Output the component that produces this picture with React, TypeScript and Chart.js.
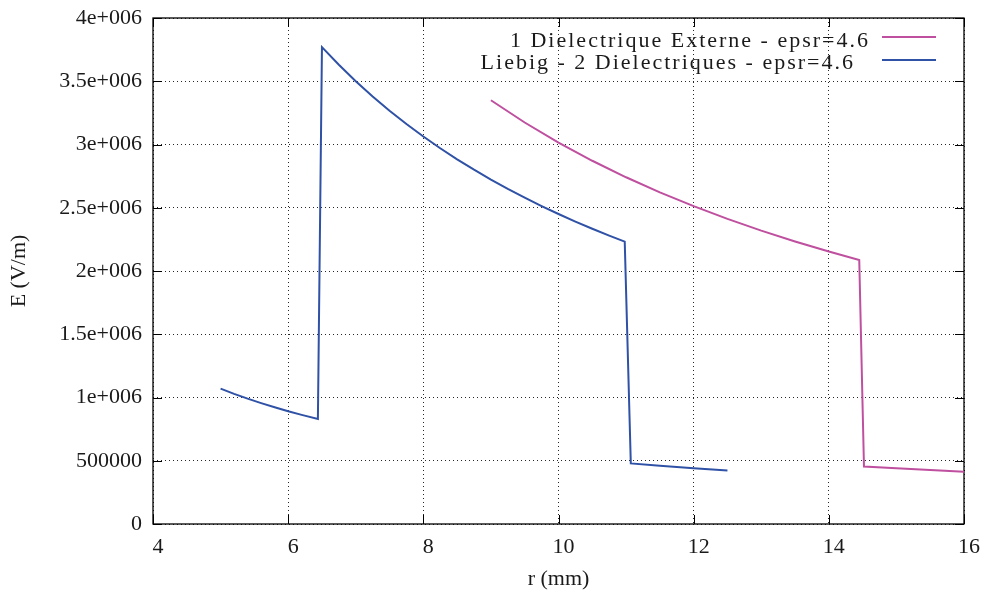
import React, { useEffect, useRef } from 'react';
import { Chart, registerables } from 'chart.js';

Chart.register(...registerables);

// ---- Data ----
const seriesLabels = [
  '1 Dielectrique Externe - epsr=4.6',
  'Liebig - 2 Dielectriques - epsr=4.6',
];

// 1 Dielectrique Externe (pink)
const externeR = [9, 9.5, 10, 10.5, 11, 11.5, 12, 12.5, 13, 13.5, 14, 14.45, 14.52, 15, 15.5, 16];
const externeE = [
  3350000, 3173700, 3015000, 2871400, 2740900, 2621700, 2512500, 2412000,
  2319200, 2233300, 2153600, 2087000, 455000, 440400, 426200, 412900,
];

// Liebig - 2 Dielectriques (blue)
const liebigR = [
  5, 5.2, 5.4, 5.6, 5.8, 6.0, 6.2, 6.44, 6.5, 6.75, 7, 7.25, 7.5, 7.75, 8, 8.25,
  8.5, 8.75, 9, 9.25, 9.5, 9.75, 10, 10.25, 10.5, 10.75, 10.98, 11.07, 11.5, 12, 12.5,
];
const liebigE = [
  1070000, 1028800, 990700, 955400, 922400, 891700, 862900, 831000, 3770000,
  3630400, 3500700, 3380000, 3267300, 3161900, 3063100, 2970300, 2883000,
  2800600, 2722800, 2649200, 2579500, 2513300, 2450500, 2390700, 2333800,
  2279500, 2232000, 479000, 460400, 441200, 423600,
];

const xTicks = [4, 6, 8, 10, 12, 14, 16];
const yTicks = [0, 500000, 1000000, 1500000, 2000000, 2500000, 3000000, 3500000, 4000000];
const yTickLabels = ['0', '500000', '1e+006', '1.5e+006', '2e+006', '2.5e+006', '3e+006', '3.5e+006', '4e+006'];

const xTitle = 'r (mm)';
const yTitle = 'E (V/m)';

const PINK = '#bf4f9f';
const BLUE = '#2f51a6';
const TEXT = '#1a1a1a';
const FONT_FAMILY = '"Liberation Serif", "DejaVu Serif", serif';

const framePlugin = {
  id: 'gnuFrame',
  beforeDatasetsDraw(chart: any) {
    const { ctx, chartArea, scales } = chart;
    const { left, right, top, bottom } = chartArea;
    ctx.save();
    ctx.strokeStyle = '#000';
    ctx.lineWidth = 1.3;
    ctx.setLineDash([]);
    ctx.strokeRect(left, top, right - left, bottom - top);
    const tl = 9;
    ctx.lineWidth = 1;
    ctx.beginPath();
    xTicks.forEach((v) => {
      const px = Math.round(scales.x.getPixelForValue(v)) + 0.5;
      ctx.moveTo(px, bottom);
      ctx.lineTo(px, bottom - tl);
      ctx.moveTo(px, top);
      ctx.lineTo(px, top + tl);
    });
    yTicks.forEach((v) => {
      const py = Math.round(scales.y.getPixelForValue(v)) + 0.5;
      ctx.moveTo(left, py);
      ctx.lineTo(left + tl, py);
      ctx.moveTo(right, py);
      ctx.lineTo(right - tl, py);
    });
    ctx.stroke();
    ctx.restore();
  },
  afterDraw(chart: any) {
    const { ctx } = chart;
    const colors = [PINK, BLUE];
    const textRight = [870, 855];
    const baselines = [47, 69];
    const lineY = [37, 60];
    ctx.save();
    ctx.font = `22px ${FONT_FAMILY}`;
    (ctx as any).letterSpacing = '2px';
    ctx.fillStyle = TEXT;
    ctx.textAlign = 'right';
    ctx.textBaseline = 'alphabetic';
    seriesLabels.forEach((label, i) => {
      ctx.fillText(label, textRight[i], baselines[i]);
      ctx.strokeStyle = colors[i];
      ctx.lineWidth = 2;
      ctx.beginPath();
      ctx.moveTo(882, lineY[i]);
      ctx.lineTo(936, lineY[i]);
      ctx.stroke();
    });
    ctx.restore();
  },
};

export default function App() {
  const canvasRef = useRef<HTMLCanvasElement | null>(null);

  useEffect(() => {
    document.body.style.margin = '0';
    const canvas = canvasRef.current;
    if (!canvas) return;
    const font = { family: FONT_FAMILY, size: 22 };
    const chart = new Chart(canvas, {
      type: 'scatter',
      data: {
        datasets: [
          {
            label: seriesLabels[0],
            data: externeR.map((r, i) => ({ x: r, y: externeE[i] })),
            showLine: true,
            borderColor: PINK,
            backgroundColor: PINK,
            borderWidth: 2,
            pointRadius: 0,
            tension: 0,
          },
          {
            label: seriesLabels[1],
            data: liebigR.map((r, i) => ({ x: r, y: liebigE[i] })),
            showLine: true,
            borderColor: BLUE,
            backgroundColor: BLUE,
            borderWidth: 2,
            pointRadius: 0,
            tension: 0,
          },
        ],
      },
      options: {
        animation: false,
        responsive: false,
        maintainAspectRatio: false,
        devicePixelRatio: 1,
        layout: { padding: { left: 0, right: 21, top: 18, bottom: 0 } },
        plugins: { legend: { display: false }, tooltip: { enabled: false } },
        scales: {
          x: {
            type: 'linear',
            min: 4,
            max: 16,
            afterBuildTicks: (s: any) => {
              s.ticks = xTicks.map((v) => ({ value: v }));
            },
            afterFit: (s: any) => {
              s.height = 70;
              s.paddingLeft = 0;
              s.paddingRight = 0;
            },
            grid: { color: 'rgba(0,0,0,0.85)', lineWidth: 1, drawTicks: false },
            border: { display: false, dash: [1, 3] },
            ticks: {
              font,
              color: TEXT,
              padding: 10,
              labelOffset: 5,
              maxRotation: 0,
              callback: (v: any) => String(v),
            },
            title: {
              display: true,
              text: xTitle,
              font,
              color: TEXT,
              padding: { top: 0, bottom: 2 },
            },
          },
          y: {
            type: 'linear',
            min: 0,
            max: 4000000,
            afterBuildTicks: (s: any) => {
              s.ticks = yTicks.map((v) => ({ value: v }));
            },
            afterFit: (s: any) => {
              s.width = 153;
              s.paddingTop = 0;
              s.paddingBottom = 0;
            },
            grid: { color: 'rgba(0,0,0,0.85)', lineWidth: 1, drawTicks: false },
            border: { display: false, dash: [1, 3] },
            ticks: {
              font,
              color: TEXT,
              padding: 11,
              callback: (v: any) => {
                const idx = yTicks.indexOf(Number(v));
                return idx >= 0 ? yTickLabels[idx] : '';
              },
            },
            title: {
              display: true,
              text: yTitle,
              font,
              color: TEXT,
              padding: { top: 6, bottom: 0 },
            },
          },
        },
      },
      plugins: [framePlugin],
    } as any);
    return () => chart.destroy();
  }, []);

  return (
    <div style={{ width: 985, height: 594 }}>
      <canvas ref={canvasRef} width={985} height={594} style={{ display: 'block', width: 985, height: 594 }} />
    </div>
  );
}
